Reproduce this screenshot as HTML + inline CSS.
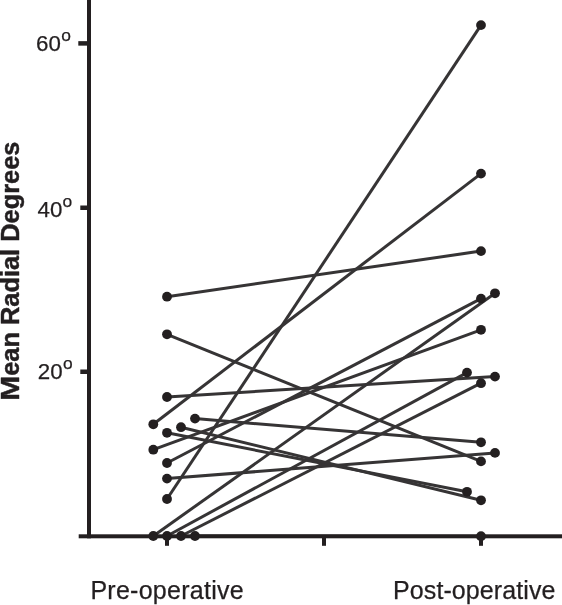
<!DOCTYPE html>
<html><head><meta charset="utf-8"><title>Mean Radial Degrees</title>
<style>
html,body{margin:0;padding:0;background:#fff;}
body{width:562px;height:605px;overflow:hidden;}
svg{display:block;}
text{font-family:"Liberation Sans",Arial,Helvetica,sans-serif;fill:#231f20;stroke:#231f20;stroke-width:0.25px;stroke-linejoin:round;}
.yl text{stroke-width:0.45px;}
</style></head><body>
<svg width="562" height="605" viewBox="0 0 562 605">
<rect width="562" height="605" fill="#fff"/>

<g stroke="#363435" stroke-width="3.0" stroke-linecap="butt" fill="none">
<line x1="167" y1="499" x2="481" y2="25.1"/>
<line x1="153.3" y1="424.3" x2="481" y2="173.6"/>
<line x1="167" y1="296.7" x2="481" y2="251.1"/>
<line x1="153.3" y1="536" x2="495" y2="293.3"/>
<line x1="167" y1="463" x2="481" y2="298.6"/>
<line x1="153.3" y1="449.7" x2="481" y2="329.8"/>
<line x1="167" y1="536" x2="467" y2="372.6"/>
<line x1="167" y1="397" x2="495" y2="376.6"/>
<line x1="181" y1="536" x2="481" y2="383.2"/>
<line x1="195" y1="418.6" x2="481" y2="442.3"/>
<line x1="167" y1="478.6" x2="495" y2="452.9"/>
<line x1="167" y1="334.3" x2="481" y2="461.4"/>
<line x1="167" y1="432.8" x2="467" y2="491.8"/>
<line x1="181" y1="427.2" x2="481" y2="500.3"/>
<line x1="195" y1="536" x2="481" y2="536.2"/>
</g>
<g fill="#231f20">
<circle cx="167" cy="499" r="4.9"/>
<circle cx="481" cy="25.1" r="4.9"/>
<circle cx="153.3" cy="424.3" r="4.9"/>
<circle cx="481" cy="173.6" r="4.9"/>
<circle cx="167" cy="296.7" r="4.9"/>
<circle cx="481" cy="251.1" r="4.9"/>
<circle cx="153.3" cy="536" r="4.9"/>
<circle cx="495" cy="293.3" r="4.9"/>
<circle cx="167" cy="463" r="4.9"/>
<circle cx="481" cy="298.6" r="4.9"/>
<circle cx="153.3" cy="449.7" r="4.9"/>
<circle cx="481" cy="329.8" r="4.9"/>
<circle cx="167" cy="536" r="4.9"/>
<circle cx="467" cy="372.6" r="4.9"/>
<circle cx="167" cy="397" r="4.9"/>
<circle cx="495" cy="376.6" r="4.9"/>
<circle cx="181" cy="536" r="4.9"/>
<circle cx="481" cy="383.2" r="4.9"/>
<circle cx="195" cy="418.6" r="4.9"/>
<circle cx="481" cy="442.3" r="4.9"/>
<circle cx="167" cy="478.6" r="4.9"/>
<circle cx="495" cy="452.9" r="4.9"/>
<circle cx="167" cy="334.3" r="4.9"/>
<circle cx="481" cy="461.4" r="4.9"/>
<circle cx="167" cy="432.8" r="4.9"/>
<circle cx="467" cy="491.8" r="4.9"/>
<circle cx="181" cy="427.2" r="4.9"/>
<circle cx="481" cy="500.3" r="4.9"/>
<circle cx="195" cy="536" r="4.9"/>
<circle cx="481" cy="536.2" r="4.9"/>
</g>
<g fill="#231f20">
<rect x="87" y="0" width="4" height="538.3"/>
<rect x="78.7" y="534.3" width="483.3" height="4"/>
<rect x="78.3" y="41.15" width="10.700000000000003" height="4.5"/>
<rect x="80.3" y="205.5" width="8.700000000000003" height="4.5"/>
<rect x="80.3" y="369.5" width="8.700000000000003" height="4.5"/>
<rect x="165" y="536" width="4" height="9.8"/>
<rect x="322" y="536" width="4" height="9.8"/>
<rect x="479" y="536" width="4" height="9.8"/>
</g>
<text x="36.1" y="51.4" font-size="22.3">60<tspan font-size="17.4" dy="-9.95" dx="0.3">o</tspan></text>
<text x="37.5" y="216.75" font-size="22.3">40<tspan font-size="17.4" dy="-9.95" dx="0.3">o</tspan></text>
<text x="37.8" y="378.55" font-size="22.3">20<tspan font-size="17.4" dy="-9.95" dx="0.3">o</tspan></text>
<text x="90.4" y="599" font-size="25" letter-spacing="0.27">Pre-operative</text>
<text x="393" y="599" font-size="25" letter-spacing="0.1">Post-operative</text>
<g transform="translate(18.9,397) rotate(-90)" class="yl" font-size="25.4" font-weight="bold"><text transform="translate(21.16,0) scale(1.18,1)" text-anchor="end" x="0" y="0">M</text><text x="21.16" y="0">ean Radial Degrees</text></g>
</svg></body></html>
